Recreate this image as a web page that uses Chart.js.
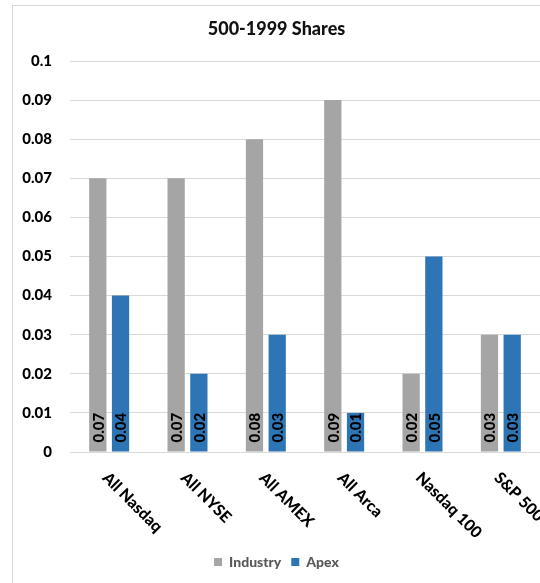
<!DOCTYPE html>
<html>
<head>
<meta charset="utf-8">
<script src="https://cdn.jsdelivr.net/npm/chart.js@4"></script>
<style>
    html, body { margin: 0; padding: 0; background: #fff; overflow: hidden; }
    #frame {
        position: absolute; left: 12px; top: 5px;
        border-left: 1px solid #d9d9d9; border-top: 1px solid #d9d9d9;
        width: 530px; height: 577px;
    }
    #chart { display: block; }
</style>
</head>
<body>
<div id="frame"><canvas id="chart" width="530" height="577"></canvas></div>
<script>
let categories = ['All Nasdaq', 'All NYSE', 'All AMEX', 'All Arca', 'Nasdaq 100', 'S&P 500'];
let industry = [0.07, 0.07, 0.08, 0.09, 0.02, 0.03];
let apex = [0.04, 0.02, 0.03, 0.01, 0.05, 0.03];

const FONT = 'Lato, "Open Sans", sans-serif';

// category labels slanted down to the right, like the excel chart
let slantLabels = {
    id: 'slantLabels',
    afterDraw(chart) {
        let ctx = chart.ctx;
        let x = chart.scales.x;
        let bottom = chart.chartArea.bottom;
        ctx.save();
        ctx.font = '900 16px ' + FONT;
        ctx.fillStyle = '#000';
        ctx.textAlign = 'left';
        ctx.textBaseline = 'middle';
        categories.forEach(function(c, i) {
            ctx.save();
            ctx.translate(x.getPixelForTick(i) - 4, bottom + 23);
            ctx.rotate(Math.PI / 4);
            ctx.fillText(c, 0, 0);
            ctx.restore();
        });
        ctx.restore();
    }
};

// vertical value labels at the foot of each bar
let barValues = {
    id: 'barValues',
    afterDatasetsDraw(chart) {
        let ctx = chart.ctx;
        ctx.save();
        ctx.font = '900 15px ' + FONT;
        ctx.fillStyle = '#000';
        ctx.textAlign = 'left';
        ctx.textBaseline = 'middle';
        chart.data.datasets.forEach(function(ds, di) {
            chart.getDatasetMeta(di).data.forEach(function(bar, i) {
                ctx.save();
                ctx.translate(bar.x + 1, bar.base - 9);
                ctx.rotate(-Math.PI / 2);
                ctx.fillText(String(ds.data[i]), 0, 0);
                ctx.restore();
            });
        });
        ctx.restore();
    }
};

new Chart(document.getElementById('chart').getContext('2d'), {
    type: 'bar',
    data: {
        labels: categories,
        datasets: [
            { label: 'Industry', data: industry, backgroundColor: '#a5a5a5', borderWidth: 0 },
            { label: 'Apex', data: apex, backgroundColor: '#2e75b6', borderWidth: 0 }
        ]
    },
    options: {
        responsive: false,
        animation: false,
        categoryPercentage: 0.58,
        barPercentage: 0.76,
        layout: { padding: { left: 0, right: 3, top: 0, bottom: 4 } },
        plugins: {
            tooltip: { enabled: false },
            title: {
                display: true,
                text: '500-1999 Shares',
                color: '#111',
                font: { family: FONT, size: 18, weight: 900 },
                padding: { top: 12, bottom: 21.4 }
            },
            legend: {
                position: 'bottom',
                labels: {
                    boxWidth: 8,
                    boxHeight: 8,
                    padding: 10,
                    color: '#595959',
                    font: { family: FONT, size: 14, weight: 900 }
                }
            }
        },
        scales: {
            x: {
                grid: { display: false },
                border: { display: false },
                ticks: { display: false },
                afterFit(scale) { scale.height = 93; }
            },
            y: {
                min: 0,
                max: 0.1,
                grid: { color: '#d9d9d9', drawTicks: false },
                border: { display: false },
                ticks: {
                    stepSize: 0.01,
                    padding: 18,
                    color: '#000',
                    font: { family: FONT, size: 15, weight: 900 },
                    callback: v => String(+v.toFixed(2))
                },
                afterFit(scale) { scale.width = 57; }
            }
        }
    },
    plugins: [slantLabels, barValues]
});
</script>
</body>
</html>
